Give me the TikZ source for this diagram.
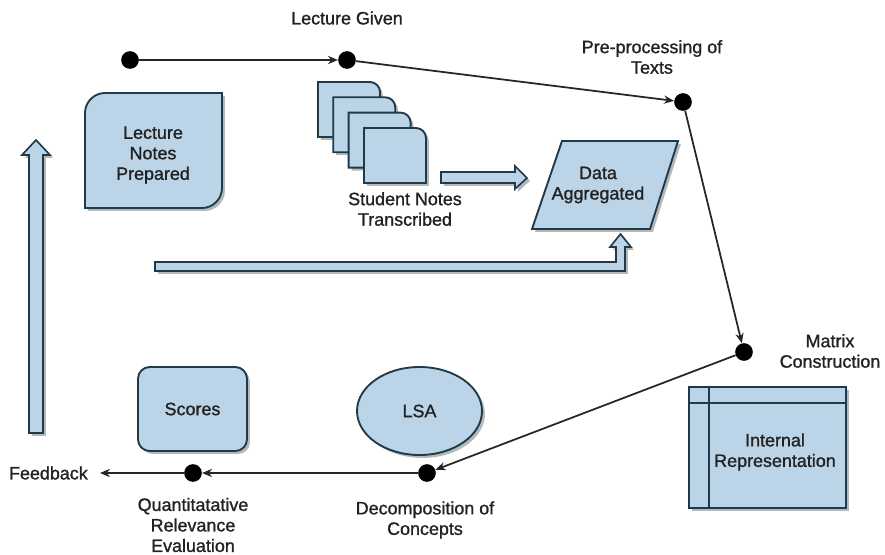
\documentclass[tikz,border=0pt]{standalone}
\usepackage{fontspec}
\setmainfont{Liberation Sans}
\newfontfamily\lblfont{Liberation Sans}[FakeBold=1.2]
\usetikzlibrary{shapes.geometric,arrows.meta,shadows}
\definecolor{boxfill}{HTML}{BBD4E8}
\definecolor{boxline}{HTML}{1F3A48}
\definecolor{txt}{HTML}{222222}

\begin{document}
\begin{tikzpicture}[x=0.03cm,y=-0.03cm,
  softshadow/.style={drop shadow={shadow xshift=2.5pt,shadow yshift=-2.5pt,opacity=0.28,fill=black}},
  bluebox/.style={fill=boxfill,draw=boxline,line width=1.6pt,softshadow},
  dot/.style={circle,fill=black,inner sep=0pt,minimum size=0.53cm},
  flow/.style={draw=black!85,line width=1.5pt,-{Stealth[length=8.5pt,width=7pt]}},
  lbl/.style={text=txt,font=\lblfont\fontsize{15.3}{17.5}\selectfont,align=center,inner sep=0pt},
  hollow/.style={fill=boxfill,draw=boxline,line width=1.4pt,softshadow,line join=miter}
]
\useasboundingbox (0,0) rectangle (885,555);

% process points
\node[dot] (start) at (130,60) {};
\node[dot] (given) at (347,60) {};
\node[dot] (prep)  at (683,102) {};
\node[dot] (matrix) at (744,352) {};
\node[dot] (decomp) at (427,473) {};
\node[dot] (quant) at (193,473) {};
\node[lbl,anchor=east,inner xsep=0.36cm] (fb) at (100,473) {Feedback};

% point labels
\node[lbl] (lgiven) at (347,18) {Lecture Given};
\node[lbl] (lprep) at (652,57) {Pre-processing of\\Texts};
\node[lbl] (lmatrix) at (830,351) {Matrix\\Construction};
\node[lbl] (ldecomp) at (425,520) {Decomposition of\\Concepts};
\node[lbl] (lquant) at (193,525) {Quantitatative\\Relevance\\Evaluation};

% process flow
\draw[flow] (start) -- (given);
\draw[flow] (given) -- (prep);
\draw[flow] (prep) -- (matrix);
\draw[flow] (matrix) -- (decomp);
\draw[flow] (decomp) -- (quant);
\draw[flow] (quant) -- (fb.east);

% lecture notes
\path[bluebox] (105,93) -- (222,93) -- (222,188) .. controls (222,199) and (213,208) .. (202,208)
  -- (85,208) -- (85,113) .. controls (85,102) and (94,93) .. (105,93) -- cycle;
\node[lbl] (lnotes) at (153,155) {Lecture\\Notes\\Prepared};

% stack of student notes
\foreach \x/\y in {318/82, 333.3/97.3, 348.6/112.6, 364/128}{
  \path[bluebox] (\x,\y) -- ({\x+52},\y) .. controls ({\x+57.5},\y) and ({\x+62},{\y+4.5}) .. ({\x+62},{\y+10})
    -- ({\x+62},{\y+55}) -- (\x,{\y+55}) -- cycle;
}
\node[lbl] (lstudent) at (405,209) {Student Notes\\Transcribed};

% data aggregated
\path[bluebox] (562,141) -- (678,141) -- (650,229) -- (532,229) -- cycle;
\node[lbl] (ldata) at (598,185) {Data\\Aggregated};

% hollow arrows
\path[hollow] (441,172) -- (515,172) -- (515,166) -- (527,178) -- (515,189) -- (515,183) -- (441,183) -- cycle;
\path[hollow] (155,262) -- (616,262) -- (616,247) -- (610,247) -- (620.5,234) -- (631,247) -- (625,247)
  -- (625,271) -- (155,271) -- cycle;
\path[hollow] (29,433) -- (29,155) -- (22,155) -- (36,140) -- (50,155) -- (43,155) -- (43,433) -- cycle;

% scores and LSA
\node[bluebox,rounded corners=10pt,minimum width=3.27cm,minimum height=2.52cm] (scores) at (192.5,409) {};
\node[lbl] at (scores) {Scores};
\node[bluebox,ellipse,minimum width=3.75cm,minimum height=2.64cm,inner sep=0pt] (lsa) at (419.5,411) {};
\node[lbl] at (lsa) {LSA};

% internal representation
\node[bluebox,minimum width=4.71cm,minimum height=3.63cm,inner sep=0pt] (irep) at (767.5,447.5) {};
\draw[boxline,line width=1.6pt] (689,403) -- (846,403) (709,387) -- (709,508);
\node[lbl] (lirep) at (775,452) {Internal\\Representation};
\end{tikzpicture}
\end{document}
